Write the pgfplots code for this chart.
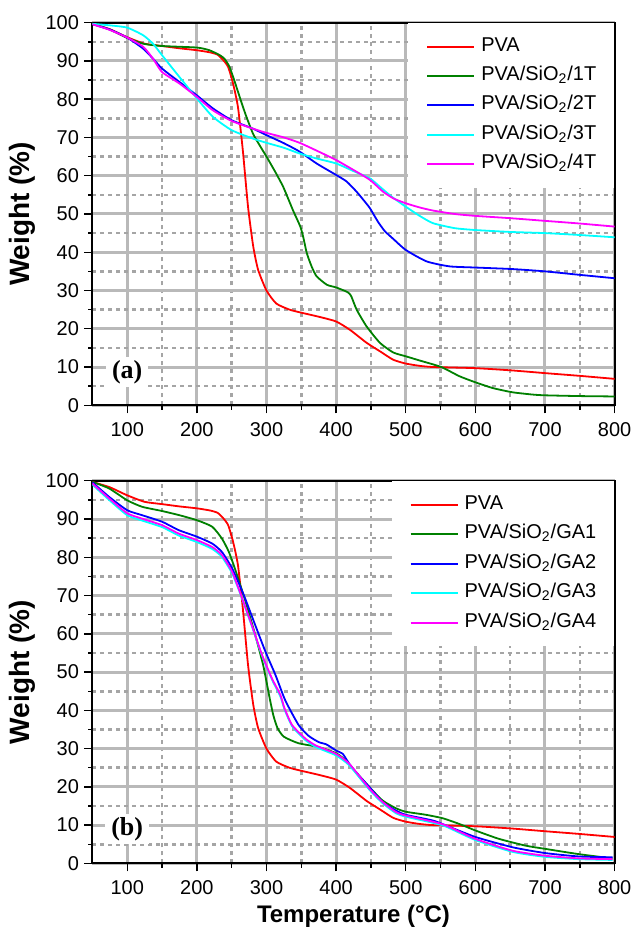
\documentclass[border=0pt]{standalone}
\usepackage{fontspec}
\setmainfont{Liberation Sans}
\newfontfamily\seriffont{Liberation Serif}
\usepackage{pgfplots}
\pgfplotsset{compat=1.18}
\definecolor{cred}{RGB}{255,0,0}
\definecolor{cgreen}{RGB}{0,128,0}
\definecolor{cblue}{RGB}{0,0,255}
\definecolor{ccyan}{RGB}{0,255,255}
\definecolor{cmag}{RGB}{255,0,255}
\definecolor{gridmaj}{RGB}{185,185,185}
\definecolor{gridmin}{RGB}{165,165,165}

\pgfplotstableread{
T W
50 99.7
75 98.3
100 96.2
125 94.5
150 93.9
175 93.3
200 92.8
220 92.2
230 91.6
238 90.2
245 88.4
252 84.1
259 78.0
266 66.7
273.5 51.9
281 41.5
288 35.4
300 30.0
314 26.6
333 25.0
350 24.2
376 23.1
400 21.9
420 19.7
444 16.3
463 14.1
482 11.9
500 10.9
520 10.3
539 10.0
600 9.7
653 9.1
700 8.4
749 7.7
800 6.9
}\pva

\pgfplotstableread{
T W
50 99.7
75 98.2
100 96.0
123 94.5
150 93.9
200 93.5
218 92.8
233 91.5
240 90.5
247 88.4
254 84.8
261.5 80.6
270 76
280.6 71.0
290 68
300 65.0
312 61.2
324 57.1
338 51.0
348.6 46.7
353 43.8
358 39.7
365 36.2
372 33.7
386.7 31.5
400 30.8
415 29.7
419 29.2
422 28.4
429.5 25.0
443.8 20.6
463 16.3
482 13.8
500 12.8
520 11.7
551 10.0
577 7.6
600 6.0
625 4.5
653 3.4
682 2.8
700 2.6
750 2.4
800 2.3
}\tone

\pgfplotstableread{
T W
50 99.6
75 98.2
100 96.1
123 93.2
137 90.6
150 88.0
175 84.5
200 81.0
223 77.6
250 74.5
280.6 72.3
300 70.6
325 68.5
347.6 66.3
372 63.2
400 60.2
415 58.5
429.5 55.8
440 53.5
448.6 51.5
460 48.0
470 45.5
482 43.5
500 40.6
530 37.6
563 36.3
600 36.0
653 35.6
700 35.0
749 34.1
800 33.2
}\ttwo

\pgfplotstableread{
T W
50 99.7
75 99.3
100 98.7
123 96.7
137 94.5
150 91.5
175 85.8
200 80.2
223 75.4
250 71.9
280.6 69.7
300 68.6
325 67.3
347.6 65.8
372 64.5
400 63.2
425 61.2
448.6 59.3
463 57.1
480 54.5
500 51.9
520 49.5
539 47.6
570 46.3
600 45.8
650 45.3
700 45.0
750 44.5
800 43.9
}\tthree

\pgfplotstableread{
T W
50 99.6
75 98.1
100 96.1
123 93.7
137 90.6
150 87.1
175 84.1
200 80.6
223 77.1
250 74.3
280.6 72.3
300 71.2
325 70.0
347.6 68.6
375 66.3
400 64.1
425 61.5
448.6 58.9
467.6 55.8
483 54.0
500 52.8
520 51.7
539 50.9
570 50.0
600 49.5
650 48.9
700 48.2
750 47.5
800 46.7
}\tfour

\pgfplotstableread{
T W
50 99.7
74 98.0
100 94.9
121.5 93.2
150 92.1
175 91.0
200 89.7
222 88.0
236 84.9
246 81.4
255.5 76.6
270 68.4
284 59.6
295 52.0
300 47.5
305 42.8
310 38.6
316 35.3
325 33.1
346 31.4
375 30.4
400 28.8
414 26.9
428.7 23.8
448 19.9
467 16.4
486 14.4
500 13.5
529 12.7
553 11.8
577 10.3
600 8.6
634 6.4
673 4.6
700 3.8
749 2.4
797 1.3
}\gaone

\pgfplotstableread{
T W
50 99.6
74 95.8
100 92.3
121.5 91.0
150 89.3
174 87.1
200 85.4
222 83.6
236 81.4
250.7 77.1
267.5 70.1
284 62.2
298.6 55.3
313 49.2
327 42.6
346 36.2
360 33.4
375 31.7
386 31.1
400 29.5
409.6 28.6
419 26.0
428.7 23.8
448 19.9
467 16.0
486 13.8
500 12.7
539 11.2
558 9.9
600 6.9
653.6 4.2
700 2.7
749 1.8
797 1.6
}\gatwo

\pgfplotstableread{
T W
50 99.0
74 95.0
100 91.0
121.5 89.6
150 87.9
174 85.7
200 84.0
222 82.2
236 80.1
250.7 75.8
262.7 70.3
279 62.0
293.8 54.2
308 48.0
320 43.6
326 40.2
337 35.8
356 32.2
371 30.4
400 28.2
419 25.6
448 19.2
467 15.7
486 13.1
500 12.2
539 10.6
558 9.6
600 6.1
653.6 3.0
700 1.7
749 1.1
797 0.9
}\gathree

\pgfplotstableread{
T W
50 99.3
74 95.4
100 91.5
121.5 90.1
150 88.4
174 86.2
200 84.5
222 82.7
236 80.6
250.7 76.2
262.7 70.5
279 62.2
293.8 54.4
308 48.3
320 44.0
326 40.5
337 36.1
356 32.6
371 30.8
400 28.6
419 26.0
448 19.5
467 16.0
486 13.4
500 12.5
539 10.9
558 9.9
600 6.4
653.6 3.3
700 2.0
749 1.3
797 1.1
}\gafour

\pgfplotsset{
 tga/.style={
  scale only axis, width=261.4pt, height=191.5pt,
  xmin=50, xmax=800, ymin=0, ymax=100,
  xtick={100,200,...,800}, ytick={0,10,...,100},
  minor x tick num=1, minor y tick num=1,
  grid=both,
  major grid style={gridmaj, line width=1.5pt},
  minor grid style={gridmin, dash pattern=on 2pt off 2pt, line width=1.3pt},
  tick align=outside, xtick pos=bottom, ytick pos=left,
  major tick length=4pt, minor tick length=2.2pt,
  every tick/.style={black, line width=0.7pt},
  axis line style={black, line width=1pt},
  /pgf/number format/assume math mode=true,
  ticklabel style={font=\fontsize{10}{12}\selectfont},
  xticklabel style={yshift=-1pt},
  yticklabel style={xshift=0.8pt},
  ylabel style={at={(axis description cs:-0.134,0.5)}, anchor=center, font=\bfseries\fontsize{14}{16}\selectfont},
  xlabel style={at={(axis description cs:0.5,-0.138)}, anchor=center, font=\bfseries\fontsize{12}{14}\selectfont},
  legend style={at={(1,1)}, anchor=north east, draw=none, fill=white, inner xsep=9pt, inner ysep=6.5pt, row sep=4.25pt, column sep=3pt, font=\fontsize{10}{12}\selectfont, nodes={inner sep=0pt, text height=7.5pt, text depth=3pt}},
  legend cell align=left,
  legend image code/.code={\draw[##1, line width=1pt] (0pt,0pt) -- (23.5pt,0pt);},
  every axis plot/.append style={line width=0.9pt, smooth, tension=0.35},
 }
}

\begin{document}
\begin{tikzpicture}
\path (-46.25pt,-34.85pt) rectangle (270.75pt,432.15pt);
\begin{axis}[tga, at={(0,229.3pt)}, anchor=south west, ylabel={Weight (\%)}]
\addplot[cred] table[x=T,y=W]{\pva};
\addplot[cgreen] table[x=T,y=W]{\tone};
\addplot[cblue] table[x=T,y=W]{\ttwo};
\addplot[ccyan] table[x=T,y=W]{\tthree};
\addplot[cmag] table[x=T,y=W]{\tfour};
\legend{PVA, PVA/SiO\textsubscript{2}/1T, PVA/SiO\textsubscript{2}/2T, PVA/SiO\textsubscript{2}/3T, PVA/SiO\textsubscript{2}/4T}
\node[fill=white, inner xsep=3pt, inner ysep=1.5pt, font=\seriffont\bfseries\fontsize{13}{15}\selectfont] at (axis cs:100,8.7) {(a)};
\end{axis}
\begin{axis}[tga, at={(0,0)}, anchor=south west, ylabel={Weight (\%)}, xlabel={Temperature (°C)}]
\addplot[cred] table[x=T,y=W]{\pva};
\addplot[cgreen] table[x=T,y=W]{\gaone};
\addplot[cblue] table[x=T,y=W]{\gatwo};
\addplot[ccyan] table[x=T,y=W]{\gathree};
\addplot[cmag] table[x=T,y=W]{\gafour};
\legend{PVA, PVA/SiO\textsubscript{2}/GA1, PVA/SiO\textsubscript{2}/GA2, PVA/SiO\textsubscript{2}/GA3, PVA/SiO\textsubscript{2}/GA4}
\node[fill=white, inner xsep=3pt, inner ysep=1.5pt, font=\seriffont\bfseries\fontsize{13}{15}\selectfont] at (axis cs:100,9) {(b)};
\end{axis}
\end{tikzpicture}
\end{document}
